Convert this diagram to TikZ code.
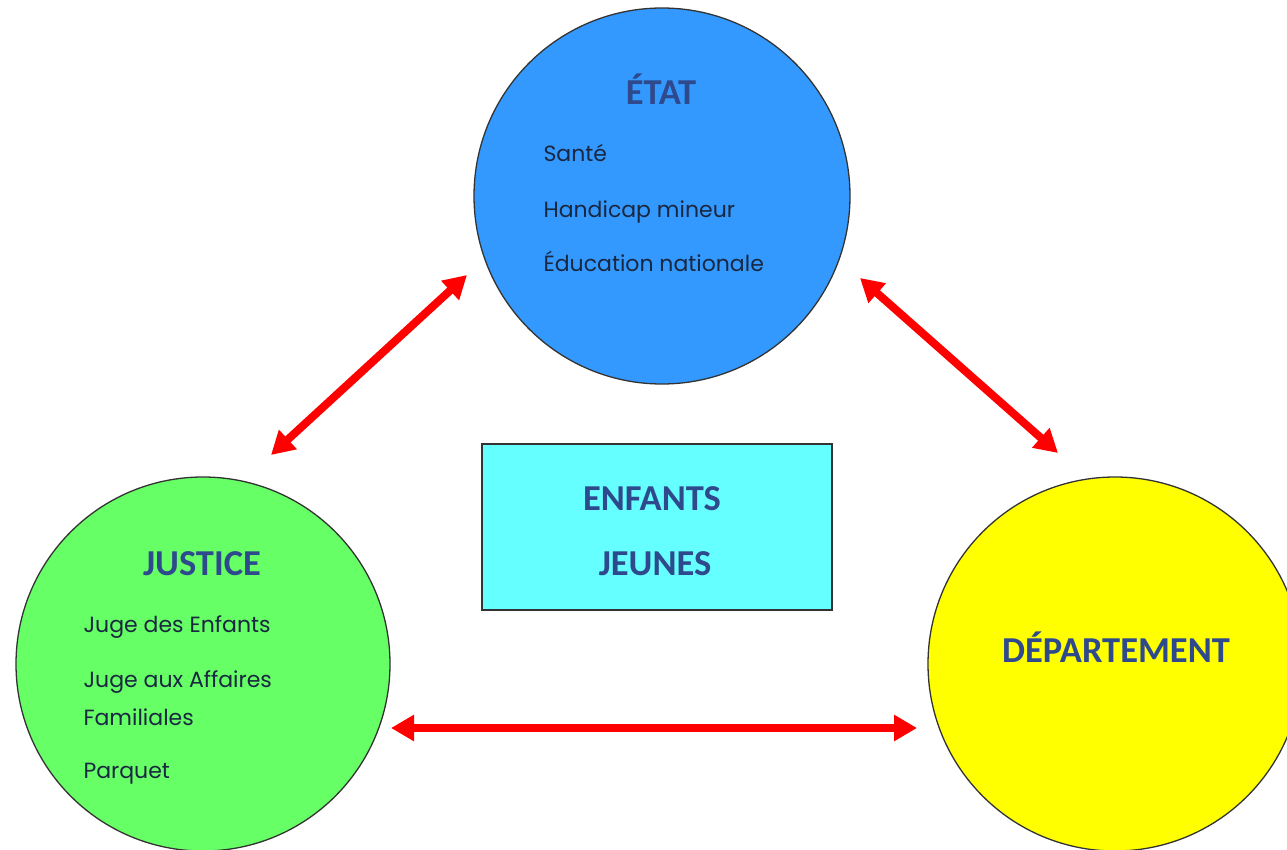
\documentclass[tikz,border=0pt]{standalone}
\usepackage{fontspec}
\setmainfont{Poppins}
\newfontfamily\headfont{Carlito}
\usetikzlibrary{arrows.meta}
\definecolor{etatblue}{HTML}{3399FF}
\definecolor{justgreen}{HTML}{66FF66}
\definecolor{depyellow}{HTML}{FFFF00}
\definecolor{boxcyan}{HTML}{66FFFF}
\definecolor{headcol}{HTML}{2E4A8C}
\definecolor{bodycol}{HTML}{1A2740}
\definecolor{outline}{HTML}{333333}
\definecolor{arrowred}{HTML}{FF0000}
\tikzset{
  bigcircle/.style={circle, draw=outline, line width=1.3pt, inner sep=0pt, minimum size=#1},
  headtext/.style={anchor=base, text=headcol, font=\headfont\bfseries\fontsize{36.5}{40}\selectfont},
  bodytext/.style={anchor=base west, text=bodycol, font=\fontsize{22}{25}\selectfont},
  link/.style={draw=arrowred, line width=8pt, {Triangle[length=23pt,width=25pt]}-{Triangle[length=23pt,width=25pt]}}
}
\begin{document}
\begin{tikzpicture}[x=1pt,y=-1pt]
\useasboundingbox (0,0) rectangle (1287,850);
\clip (0,0) rectangle (1287,850);
\fill[white] (0,0) rectangle (1287,850);
% circles
\node[bigcircle=376pt, fill=etatblue] (etat) at (662,196) {};
\node[bigcircle=374pt, fill=justgreen] (justice) at (203,664) {};
\node[bigcircle=374pt, fill=depyellow] (dep) at (1115,664) {};
% central box
\node[draw=outline, line width=1.3pt, fill=boxcyan, minimum width=350pt, minimum height=166pt, inner sep=0pt] (box) at (657,527) {};
% headings
\node[headtext] (etatT) at (661,105) {ÉTAT};
\node[headtext] (justT) at (202,575) {JUSTICE};
\node[headtext] (depT) at (1116,662) {DÉPARTEMENT};
\node[headtext] (enf) at (652,510) {ENFANTS};
\node[headtext] (jeu) at (655,575) {JEUNES};
% body lines
\node[bodytext] (e1) at (540,162) {Santé};
\node[bodytext] (e2) at (540,218) {Handicap mineur};
\node[bodytext] (e3) at (540,272) {Éducation nationale};
\node[bodytext] (j1) at (80,632) {Juge des Enfants};
\node[bodytext] (j2) at (80,687) {Juge aux Affaires};
\node[bodytext] (j3) at (80,725) {Familiales};
\node[bodytext] (j4) at (80,778) {Parquet};
% arrow ends
\coordinate (a1) at (271,455);
\coordinate (a2) at (467,275);
\coordinate (b1) at (860,278);
\coordinate (b2) at (1058,453);
\coordinate (c1) at (391,728);
\coordinate (c2) at (917,728);
\draw[link] (a1) -- (a2);
\draw[link] (b1) -- (b2);
\draw[link] (c1) -- (c2);
\end{tikzpicture}
\end{document}
